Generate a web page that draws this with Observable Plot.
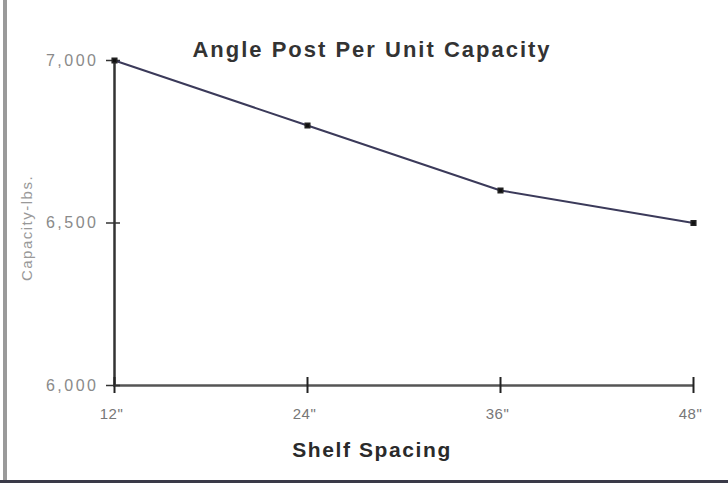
<!DOCTYPE html>
<html>
<head>
<meta charset="utf-8">
<script src="https://cdn.jsdelivr.net/npm/d3@7"></script>
<script src="https://cdn.jsdelivr.net/npm/@observablehq/plot@0.6"></script>
<style>
  html, body { margin: 0; padding: 0; background: #fff; }
  #wrap { position: relative; width: 728px; height: 483px; overflow: hidden; }
  #lb { position: absolute; left: 3px; top: 0; width: 4px; height: 483px; background: #9a9a9a; }
  #bb { position: absolute; left: 0; top: 480px; width: 728px; height: 3px; background: #3a3a48; }
  svg { font-family: "Liberation Sans", Arial, sans-serif; }
  g[aria-label="y-axis tick label"] text { letter-spacing: 2.5px; }
  g[aria-label="x-axis tick label"] text { letter-spacing: 0.5px; }
</style>
</head>
<body>
<div id="wrap"></div>
<script>
const title = "Angle Post Per Unit Capacity";
const xLabel = "Shelf Spacing";
const yLabel = "Capacity-lbs.";
const spacing = ['12"', '24"', '36"', '48"'];
const capacity = [7000, 6800, 6600, 6500];
const yTicks = [6000, 6500, 7000];

const data = spacing.map((s, i) => ({s, c: capacity[i]}));
const fmt = d3.format(",");

const chart = Plot.plot({
  width: 728,
  height: 483,
  marginLeft: 113,
  marginRight: 34,
  marginTop: 60,
  marginBottom: 98,
  style: {background: "transparent", fontFamily: '"Liberation Sans", Arial, sans-serif'},
  x: {type: "point", domain: spacing, padding: 0},
  y: {domain: [6000, 7000]},
  marks: [
    // axis lines
    Plot.ruleX([spacing[0]], {stroke: "#333", strokeWidth: 2.5}),
    Plot.ruleY([6000], {stroke: "#555", strokeWidth: 2.5}),
    // tick marks crossing the axes
    Plot.axisX({ticks: spacing, tickSize: 16, dy: -8, text: null, label: null, stroke: "#222", strokeWidth: 2}),
    Plot.axisY({ticks: yTicks, tickSize: 14, dx: 7, text: null, label: null, stroke: "#333", strokeWidth: 1.5}),
    // tick labels
    Plot.axisX({ticks: spacing, tickSize: 0, tickPadding: 23, fontSize: 15, fill: "#777", label: null, dx: -3}),
    Plot.axisY({ticks: yTicks, tickSize: 0, tickPadding: 15, tickFormat: fmt, fontSize: 16, fill: "#8a8a8a", label: null}),
    // data
    Plot.line(data, {x: "s", y: "c", stroke: "#3b3a5a", strokeWidth: 2}),
    Plot.dot(data, {x: "s", y: "c", symbol: "square", r: 2.6, fill: "#111", stroke: "#222"}),
    // titles
    Plot.text([title], {frameAnchor: "top", dx: -32, dy: -19, fontSize: 22, fontWeight: "bold", fill: "#333"}),
    Plot.text([xLabel], {frameAnchor: "bottom", dx: -32, dy: 71, fontSize: 21, fontWeight: "bold", fill: "#2a2a2a"}),
    Plot.text([yLabel], {frameAnchor: "left", textAnchor: "middle", dx: -86, dy: 5, rotate: -90, fontSize: 15, fill: "#999"}),
  ]
});
const spacingStyle = {[title]: "2px", [xLabel]: "1.6px", [yLabel]: "1.5px"};
chart.querySelectorAll("text").forEach(t => {
  const k = t.textContent;
  if (spacingStyle[k]) t.style.letterSpacing = spacingStyle[k];
});
const wrap = document.getElementById("wrap");
wrap.appendChild(chart);
const lb = document.createElement("div"); lb.id = "lb"; wrap.appendChild(lb);
const bb = document.createElement("div"); bb.id = "bb"; wrap.appendChild(bb);
</script>
</body>
</html>
